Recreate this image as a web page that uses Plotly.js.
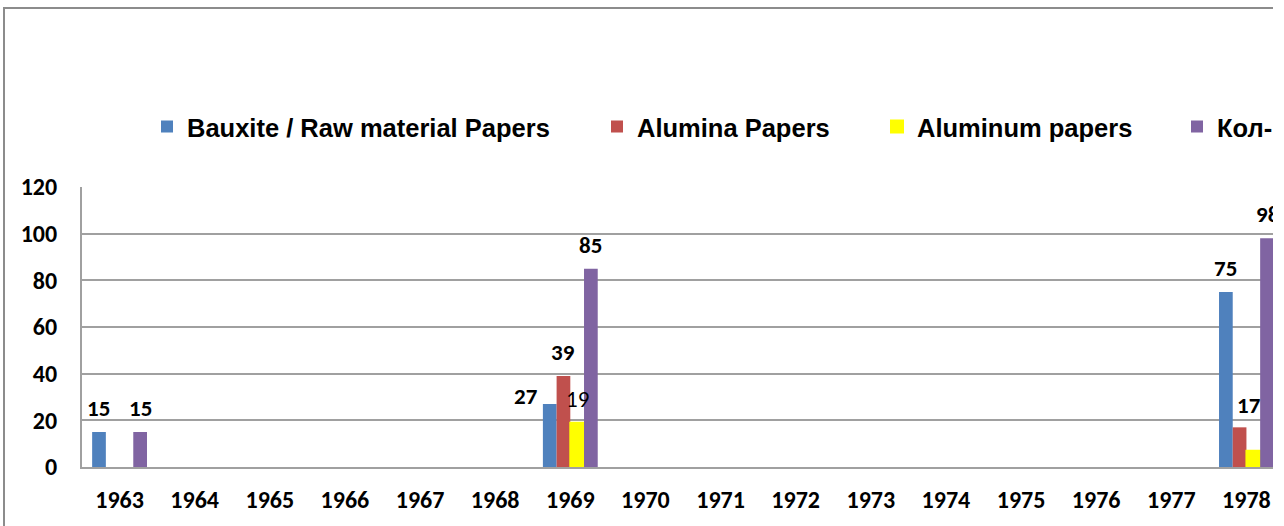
<!DOCTYPE html>
<html>
<head>
<meta charset="utf-8">
<script src="https://cdn.plot.ly/plotly-3.0.1.min.js"></script>
<style>
  html, body { margin: 0; padding: 0; background: #ffffff; }
  #crop { width: 1273px; height: 526px; overflow: hidden; position: relative; }
  #chart { width: 1700px; height: 526px; }
</style>
</head>
<body>
<div id="crop"><div id="chart"></div></div>
<script>
// ---- data ----
const years = ['1963','1964','1965','1966','1967','1968','1969','1970','1971','1972','1973','1974','1975','1976','1977','1978'];
const bauxitePapers  = [15, null, null, null, null, null, 27, null, null, null, null, null, null, null, null, 75];
const aluminaPapers  = [null, null, null, null, null, null, 39, null, null, null, null, null, null, null, null, 17];
const aluminumPapers = [null, null, null, null, null, null, 19, null, null, null, null, null, null, null, null, 7];
const countPapers    = [15, null, null, null, null, null, 85, null, null, null, null, null, null, null, null, 98];
const seriesNames = ['Bauxite / Raw material Papers', 'Alumina Papers', 'Aluminum papers', 'Кол-во публикаций'];
const yTicks = [0, 20, 40, 60, 80, 100, 120];

// ---- styling ----
const colors = ['#4F81BD', '#C0504D', '#FFFF00', '#8064A2'];
const W = 1700, H = 526;
const M = { l: 82, r: 416, t: 187, b: 59 };
const PW = W - M.l - M.r, PH = H - M.t - M.b;
const BARGAP = 0.27;
const numFont = 'Carlito, Lato, "Open Sans", sans-serif';
const legFont = '"Liberation Sans", Arial, sans-serif';
const gridCol = '#a0a0a0';

const px2x = p => (p - M.l) / PW;
const px2y = p => (H - M.b - p) / PH;

const allSeries = [bauxitePapers, aluminaPapers, aluminumPapers, countPapers];

const traces = allSeries.map((vals, i) => ({
  type: 'bar',
  name: seriesNames[i],
  x: years,
  y: vals,
  legend: i === 0 ? 'legend' : 'legend' + (i + 1),
  marker: {
    color: colors[i],
    line: i === 2 ? { color: '#FFFF00', width: 2 } : { width: 0 }
  },
  hoverinfo: 'x+y+name'
}));

// data labels (Excel-like): bold, yellow series regular
const catW = PW / years.length;
const barPx = catW * (1 - BARGAP) / allSeries.length;
const labelNudge = { '0-1969': [-24, -16], '1-1978': [9, -2] };
const hiddenLabels = { '2-1978': true };
const annotations = [];
allSeries.forEach((vals, i) => {
  vals.forEach((v, j) => {
    if (v === null) return;
    const key = i + '-' + years[j];
    if (hiddenLabels[key]) return;
    const n = labelNudge[key] || [0, 0];
    annotations.push({
      x: j, y: v, xref: 'x', yref: 'y',
      text: String(v), showarrow: false,
      xanchor: 'center', yanchor: 'middle',
      xshift: (i - 1.5) * barPx + n[0],
      yshift: 24 + n[1],
      font: { family: numFont, size: 23, color: '#000000', weight: i === 2 ? 'normal' : 'bold' }
    });
  });
});

// legend positions (separate legends to mimic Excel spacing)
const legendX = [167, 617, 897, 1197];
const legendCommon = (xp) => ({
  x: px2x(xp - 20), xref: 'paper', xanchor: 'left',
  y: px2y(127), yref: 'paper', yanchor: 'middle',
  orientation: 'h', bgcolor: 'rgba(0,0,0,0)', borderwidth: 0,
  font: { family: legFont, size: 25.5, color: '#000000', weight: 'bold' },
  itemclick: false, itemdoubleclick: false
});

const layout = {
  width: W, height: H,
  margin: M,
  paper_bgcolor: 'rgba(0,0,0,0)',
  plot_bgcolor: '#ffffff',
  barmode: 'group',
  bargap: BARGAP,
  bargroupgap: 0,
  showlegend: true,
  legend: legendCommon(legendX[0]),
  legend2: legendCommon(legendX[1]),
  legend3: legendCommon(legendX[2]),
  legend4: legendCommon(legendX[3]),
  xaxis: {
    type: 'category',
    range: [-0.5, years.length - 0.5],
    tickvals: years, ticktext: years,
    showgrid: false, zeroline: false,
    showline: true, linecolor: gridCol, linewidth: 2,
    ticks: '', ticklabelstandoff: 10,
    tickfont: { family: numFont, size: 24, color: '#000000', weight: 'bold' },
    fixedrange: true
  },
  yaxis: {
    range: [0, 120],
    tickvals: yTicks, ticktext: yTicks.map(String),
    showgrid: true, gridcolor: gridCol, gridwidth: 2,
    zeroline: false,
    showline: true, linecolor: gridCol, linewidth: 2,
    ticks: '', ticklabelstandoff: 18,
    tickfont: { family: numFont, size: 24, color: '#000000', weight: 'bold' },
    fixedrange: true
  },
  annotations: annotations,
  shapes: [{
    type: 'rect', xref: 'paper', yref: 'paper', layer: 'below',
    x0: px2x(4), x1: px2x(W + 50), y0: px2y(8), y1: px2y(H + 50),
    line: { color: '#8c8c8c', width: 2 }, fillcolor: 'rgba(0,0,0,0)'
  }]
};

Plotly.newPlot('chart', traces, layout, { displayModeBar: false, staticPlot: true });
</script>
</body>
</html>
